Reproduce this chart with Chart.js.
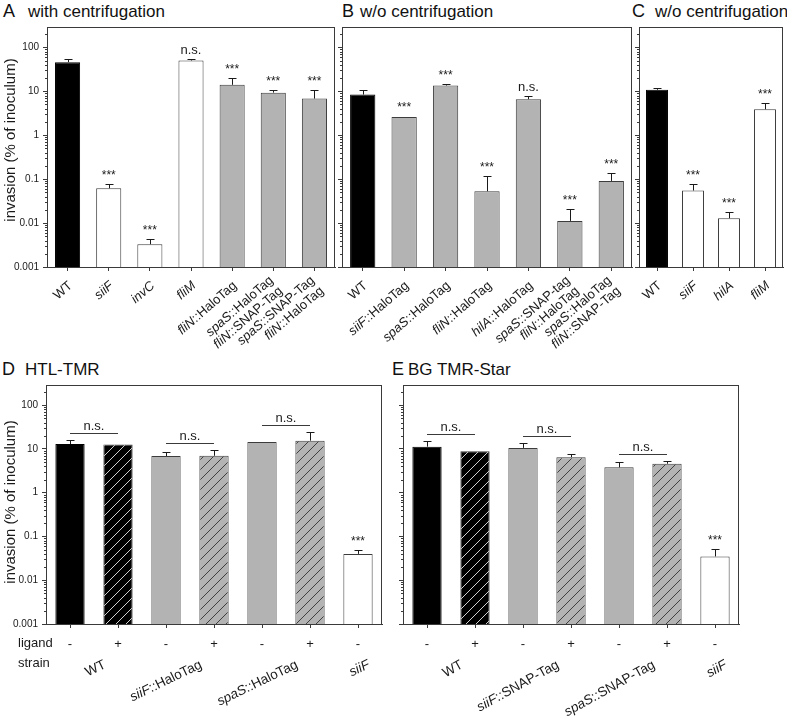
<!DOCTYPE html>
<html lang="en">
<head>
<meta charset="UTF-8">
<title>Invasion assays</title>
<script src="https://cdn.jsdelivr.net/npm/chart.js"></script>
<style>
  body { margin: 0; background: #fff; }
  #page { position: relative; width: 787px; height: 722px; overflow: hidden;
          font-family: "Liberation Sans", Arial, Helvetica, sans-serif; color: #111; }
  #page canvas { position: absolute; left: 0; top: 0; }
  .lt { position: absolute; font-size: 18px; line-height: 1; white-space: nowrap; }
  .tt { position: absolute; font-size: 17px; line-height: 1; white-space: nowrap; }
</style>
</head>
<body>
<div id="page">
  <div class="lt" style="left:3px;top:2px">A</div>
  <div class="tt" style="left:28px;top:3px">with centrifugation</div>
  <div class="lt" style="left:342px;top:2px">B</div>
  <div class="tt" style="left:360px;top:3px">w/o centrifugation</div>
  <div class="lt" style="left:632px;top:2px">C</div>
  <div class="tt" style="left:655px;top:3px">w/o centrifugation</div>
  <div class="lt" style="left:2px;top:360px">D</div>
  <div class="tt" style="left:25px;top:361px">HTL-TMR</div>
  <div class="lt" style="left:392px;top:360px">E</div>
  <div class="tt" style="left:408px;top:361px">BG TMR-Star</div>

  <canvas id="cA" width="787" height="722"></canvas>
  <canvas id="cB" width="787" height="722"></canvas>
  <canvas id="cC" width="787" height="722"></canvas>
  <canvas id="cD" width="787" height="722"></canvas>
  <canvas id="cE" width="787" height="722"></canvas>
</div>

<script>
// ---- values (invasion, % of inoculum) ----
// _x_ marks italic text (gene names)
const yTicks = [0.001, 0.01, 0.1, 1, 10, 100];
const yMax = 290;

const catsA = ['WT', '_siiF_', '_invC_', '_fliM_', '_fliN_::HaloTag',
  ['_spaS_::HaloTag', '_fliN_::SNAP-Tag'], ['_spaS_::SNAP-Tag', '_fliN_::HaloTag']];
const meanA = [46, 0.062, 0.0033, 50, 14, 9.3, 6.8];
const upperA = [55, 0.077, 0.0044, 53, 20, 10.8, 10.6];
const sigA = ['', '***', '***', 'n.s.', '***', '***', '***'];

const catsB = ['WT', '_siiF_::HaloTag', '_spaS_::HaloTag', '_fliN_::HaloTag', '_hilA_::HaloTag',
  ['_spaS_::SNAP-tag', '_fliN_::HaloTag'], ['_spaS_::HaloTag', '_fliN_::SNAP-Tag']];
const meanB = [8.4, 2.6, 13.5, 0.053, 6.6, 0.0112, 0.091];
const upperB = [10.8, 2.75, 14.5, 0.118, 7.9, 0.0206, 0.138];
const sigB = ['', '***', '***', '***', 'n.s.', '***', '***'];

const catsC = ['WT', '_siiF_', '_hilA_', '_fliM_'];
const meanC = [10.8, 0.055, 0.0129, 3.9];
const upperC = [11.7, 0.077, 0.0176, 5.4];
const sigC = ['', '***', '***', '***'];

const ligand = ['-', '+', '-', '+', '-', '+', '-'];
const groupsDE = [[0, 1], [2, 3], [4, 5], [6]];
const sigDE = ['', '', '', '', '', '', '***'];

const strainsD = ['WT', '_siiF_::HaloTag', '_spaS_::HaloTag', '_siiF_'];
const meanD = [13, 12.6, 6.9, 7.0, 14.5, 15.5, 0.040];
const upperD = [16, 12.6, 8.4, 9.6, 15, 24, 0.050];

const strainsE = ['WT', '_siiF_::SNAP-Tag', '_spaS_::SNAP-Tag', '_siiF_'];
const meanE = [11.3, 8.9, 10.6, 6.5, 3.8, 4.6, 0.035];
const upperE = [15, 8.9, 13.5, 7.7, 5.0, 5.2, 0.053];

// ---- drawing helpers ----
const FONT = '"Liberation Sans", Arial, Helvetica, sans-serif';
const INK = '#1a1a1a';
const AXIS = '#3a3a3a';
const W = 787, H = 722;

function font(italic, size) {
  return (italic ? 'italic ' : '') + size + 'px ' + FONT;
}

function segs(str) {
  return str.split('_').map((t, i) => ({ t: t, it: i % 2 === 1 })).filter(s => s.t);
}

// rotated, right-aligned multi-line label ending at (x, y)
function rotLabel(ctx, lines, x, y, deg, size, lh) {
  lines = Array.isArray(lines) ? lines : [lines];
  ctx.save();
  ctx.translate(x, y);
  ctx.rotate(-deg * Math.PI / 180);
  ctx.fillStyle = INK;
  ctx.textBaseline = 'middle';
  ctx.textAlign = 'left';
  lines.forEach((ln, i) => {
    const parts = segs(ln);
    let w = 0;
    parts.forEach(p => { ctx.font = font(p.it, size); w += ctx.measureText(p.t).width; });
    let cx = -w;
    const cy = (i - (lines.length - 1) / 2) * lh;
    parts.forEach(p => {
      ctx.font = font(p.it, size);
      ctx.fillText(p.t, cx, cy);
      cx += ctx.measureText(p.t).width;
    });
  });
  ctx.restore();
}

function hatch(bg, fg) {
  const s = 10;
  const c = document.createElement('canvas');
  c.width = c.height = s;
  const g = c.getContext('2d');
  g.fillStyle = bg;
  g.fillRect(0, 0, s, s);
  g.strokeStyle = fg;
  g.lineWidth = 0.9;
  g.beginPath();
  g.moveTo(0, s); g.lineTo(s, 0);
  g.moveTo(-1, 1); g.lineTo(1, -1);
  g.moveTo(s - 1, s + 1); g.lineTo(s + 1, s - 1);
  g.stroke();
  return g.createPattern(c, 'repeat');
}

const K = '#000000', G = '#b3b3b3', Wh = '#ffffff';
const KH = hatch('#000000', '#e8e8e8');
const GH = hatch('#b3b3b3', '#333333');

function line(ctx, x1, y1, x2, y2) {
  ctx.beginPath();
  ctx.moveTo(x1, y1);
  ctx.lineTo(x2, y2);
  ctx.stroke();
}

function makePanel(p) {
  const deco = {
    id: 'deco',
    afterDatasetsDraw(chart) {
      const ctx = chart.ctx;
      const a = chart.chartArea;
      const ys = chart.scales.y;
      const bars = chart.getDatasetMeta(0).data;
      ctx.save();
      ctx.strokeStyle = AXIS;
      ctx.lineWidth = 1;
      // top and right frame
      line(ctx, a.left, a.top + 0.5, a.right, a.top + 0.5);
      line(ctx, a.right - 0.5, a.top, a.right - 0.5, a.bottom);
      // minor log ticks
      for (let n = -3; n <= 2; n++) {
        for (let k = 2; k <= 9; k++) {
          const v = k * Math.pow(10, n);
          if (v > yMax) continue;
          const y = Math.round(ys.getPixelForValue(v)) + 0.5;
          line(ctx, a.left - 2, y, a.left, y);
        }
      }
      // error bars (upper only) and significance marks
      bars.forEach((b, i) => {
        const x = Math.round(b.x) + 0.5;
        const ye = Math.round(ys.getPixelForValue(p.upper[i])) + 0.5;
        if (ye < b.y - 0.5) {
          ctx.strokeStyle = INK;
          line(ctx, x, b.y, x, ye);
          line(ctx, x - 4, ye, x + 4, ye);
        }
        const s = p.sig[i];
        if (s) {
          ctx.fillStyle = INK;
          ctx.font = font(false, s === '***' ? 12 : 13);
          ctx.textAlign = 'center';
          ctx.textBaseline = 'alphabetic';
          ctx.fillText(s, b.x, Math.min(ye, b.y) - 6);
        }
      });
      ctx.restore();
    },
    afterDraw(chart) {
      const ctx = chart.ctx;
      const a = chart.chartArea;
      const xs = chart.scales.x, ys = chart.scales.y;
      ctx.save();
      // y axis title
      if (p.yTitleY) {
        ctx.translate(11, p.yTitleY);
        ctx.rotate(-Math.PI / 2);
        ctx.fillStyle = INK;
        ctx.font = font(false, 15);
        ctx.textAlign = 'center';
        ctx.textBaseline = 'middle';
        ctx.fillText('invasion (% of inoculum)', 0, 0);
        ctx.setTransform(1, 0, 0, 1, 0, 0);
      }
      if (p.cats) {
        p.cats.forEach((c, i) => {
          rotLabel(ctx, c, xs.getPixelForValue(i) + 3, a.bottom + 17, 41, 13, 14);
        });
      }
      if (p.strains) {
        ctx.fillStyle = INK;
        ctx.font = font(false, 13);
        ctx.textAlign = 'center';
        ctx.textBaseline = 'middle';
        ligand.forEach((l, i) => ctx.fillText(l, xs.getPixelForValue(i), a.bottom + 20));
        if (p.rowTitles) {
          ctx.textAlign = 'left';
          ctx.fillText('ligand', 18, a.bottom + 19);
          ctx.fillText('strain', 18, a.bottom + 39);
        }
        groupsDE.forEach((g, k) => {
          const cx = g.reduce((s, i) => s + xs.getPixelForValue(i), 0) / g.length;
          rotLabel(ctx, p.strains[k], cx + 11, a.bottom + 40, p.strainAngle, 13.5, 15);
        });
        // n.s. brackets over the -/+ pairs
        ctx.strokeStyle = AXIS;
        ctx.lineWidth = 1;
        groupsDE.filter(g => g.length === 2).forEach(g => {
          const x1 = xs.getPixelForValue(g[0]), x2 = xs.getPixelForValue(g[1]);
          const yl = Math.round(Math.min(ys.getPixelForValue(p.upper[g[0]]), ys.getPixelForValue(p.upper[g[1]])) - 7) + 0.5;
          line(ctx, x1, yl, x2, yl);
          ctx.fillStyle = INK;
          ctx.font = font(false, 13);
          ctx.textAlign = 'center';
          ctx.textBaseline = 'alphabetic';
          ctx.fillText('n.s.', (x1 + x2) / 2, yl - 4);
        });
      }
      ctx.restore();
    }
  };

  const labels = p.cats ? p.cats.map(c => [].concat(c).join(' ')) :
    ligand.map((l, i) => 'bar ' + i + ' ' + l);

  return new Chart(document.getElementById(p.id), {
    type: 'bar',
    data: {
      labels: labels,
      datasets: [{
        data: p.mean,
        backgroundColor: p.fills,
        borderColor: p.fills.map(f => f === K ? '#000' : '#3c3c3c'),
        borderWidth: 1,
        borderSkipped: 'start',
        barPercentage: 0.61,
        categoryPercentage: 1
      }]
    },
    options: {
      responsive: false,
      animation: false,
      devicePixelRatio: 1,
      events: [],
      layout: { padding: { left: 0, top: p.box.top, right: W - p.box.right, bottom: 0 } },
      plugins: { legend: { display: false }, tooltip: { enabled: false } },
      scales: {
        x: {
          type: 'category',
          offset: true,
          grid: { offset: false, drawOnChartArea: false, drawTicks: true, tickLength: 4, color: AXIS },
          border: { display: true, color: AXIS },
          ticks: { display: false },
          afterFit: s => { s.height = H - p.box.bottom; }
        },
        y: {
          type: 'logarithmic',
          min: 0.001,
          max: yMax,
          grid: { drawOnChartArea: false, drawTicks: true, tickLength: 4, color: AXIS },
          border: { display: true, color: AXIS },
          ticks: {
            display: !!p.yLabels,
            color: INK,
            padding: 4,
            font: { family: FONT, size: 10 },
            callback: v => String(v)
          },
          afterBuildTicks: s => { s.ticks = yTicks.map(v => ({ value: v })); },
          afterFit: s => { s.width = p.box.left; }
        }
      }
    },
    plugins: [deco]
  });
}

makePanel({ id: 'cA', box: { left: 47, right: 335, top: 27, bottom: 267 },
  cats: catsA, mean: meanA, upper: upperA, sig: sigA,
  fills: [K, Wh, Wh, Wh, G, G, G], yLabels: true, yTitleY: 140 });

makePanel({ id: 'cB', box: { left: 342, right: 632, top: 27, bottom: 267 },
  cats: catsB, mean: meanB, upper: upperB, sig: sigB,
  fills: [K, G, G, G, G, G, G] });

makePanel({ id: 'cC', box: { left: 639, right: 783, top: 27, bottom: 267 },
  cats: catsC, mean: meanC, upper: upperC, sig: sigC,
  fills: [K, Wh, Wh, Wh] });

makePanel({ id: 'cD', box: { left: 46, right: 382, top: 385, bottom: 624 },
  strains: strainsD, mean: meanD, upper: upperD, sig: sigDE, strainAngle: 26,
  fills: [K, KH, G, GH, G, GH, Wh], yLabels: true, yTitleY: 502, rowTitles: true });

makePanel({ id: 'cE', box: { left: 403, right: 739, top: 385, bottom: 624 },
  strains: strainsE, mean: meanE, upper: upperE, sig: sigDE, strainAngle: 29,
  fills: [K, KH, G, GH, G, GH, Wh] });
</script>
</body>
</html>
